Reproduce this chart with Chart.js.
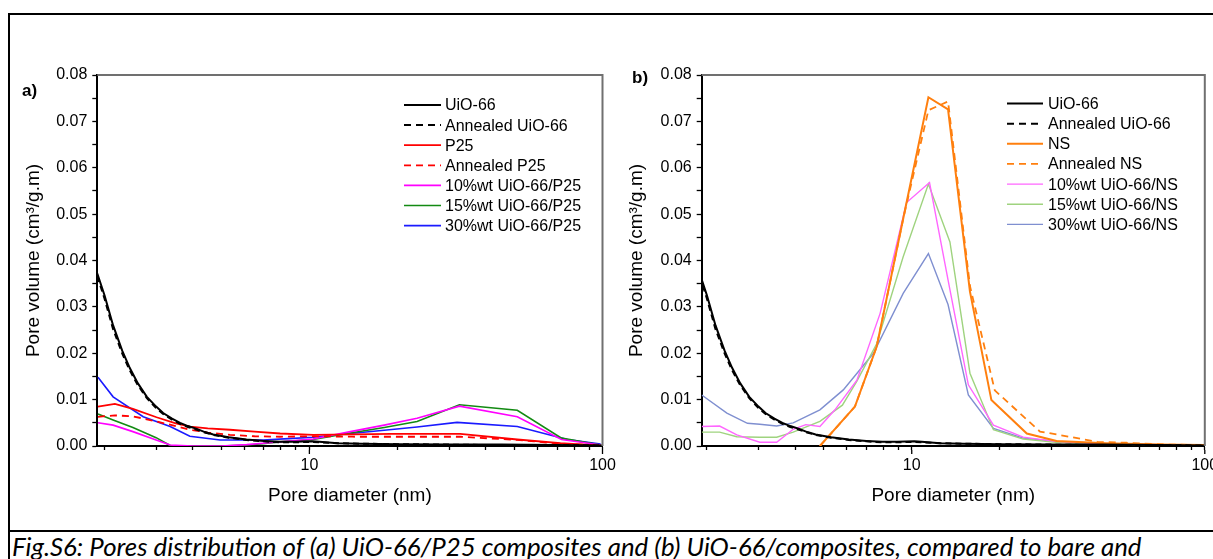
<!DOCTYPE html>
<html>
<head>
<meta charset="utf-8">
<title>Pore size distribution</title>
<script src="https://cdn.jsdelivr.net/npm/chart.js@4.4.1/dist/chart.umd.min.js"></script>
<style>
  html, body { margin: 0; padding: 0; background: #fff; }
  body { width: 1213px; height: 559px; position: relative; overflow: hidden;
         font-family: "Liberation Sans", Arial, sans-serif; color: #000; }
  canvas { position: absolute; top: 0; }
  #chartA { left: 0; }
  #chartB { left: 610px; }
  .rule { position: absolute; background: #000; }
  .tag { position: absolute; font-weight: bold; font-size: 17px; line-height: 20px; }
  .caption { position: absolute; left: 12px; top: 533px; font-family: Lato, "Open Sans", sans-serif;
             font-style: italic; font-size: 25.8px; line-height: 26px; white-space: nowrap; }
</style>
</head>
<body>
<div class="rule" style="left:8px;top:13px;width:1205px;height:2px;"></div>
<div class="rule" style="left:8px;top:13px;width:2px;height:546px;"></div>
<div class="rule" style="left:8px;top:530px;width:1205px;height:2px;"></div>
<canvas id="chartA" width="620" height="530"></canvas>
<canvas id="chartB" width="603" height="530"></canvas>
<div class="tag" style="left:22px;top:81px;">a)</div>
<div class="tag" style="left:632px;top:68px;">b)</div>
<div class="caption">Fig.S6: Pores distribution of (a) UiO-66/P25 composites and (b) UiO-66/composites, compared to bare and</div>

<script>
// ---- axis ticks ----
const xTickValues = [2, 3, 4, 5, 6, 7, 8, 9, 10, 20, 30, 40, 50, 60, 70, 80, 90, 100];
const xTickLabels = [10, 100];
const yTickStep = 0.005;
const yTickLabelStep = 0.01;

// ---- UiO-66 (shared by both panels) ----
const uioD = [1.89, 2.0, 2.14, 2.3, 2.44, 2.6, 2.79, 3.0, 3.17, 3.4, 3.62, 3.85, 4.13, 4.4, 4.7, 5.3, 6.1, 7.0, 7.95, 8.9, 10.2, 10.8, 12.5, 15, 20, 30, 45, 70, 100];
const uioV = [0.0372, 0.0325, 0.0260, 0.0205, 0.0168, 0.0135, 0.0106, 0.0085, 0.0071, 0.0059, 0.0050, 0.0043, 0.0037, 0.0030, 0.0025, 0.0019, 0.0014, 0.0011, 0.0009, 0.0009, 0.0010, 0.0009, 0.0006, 0.0005, 0.0004, 0.0003, 0.0003, 0.0002, 0.0001];
const uioAnnV = [0.0366, 0.0318, 0.0252, 0.0199, 0.0163, 0.0131, 0.0103, 0.0082, 0.0069, 0.0057, 0.0048, 0.0041, 0.0035, 0.0029, 0.0024, 0.0018, 0.0013, 0.0010, 0.0008, 0.0008, 0.0009, 0.0008, 0.0006, 0.0005, 0.0004, 0.0003, 0.0002, 0.0002, 0.0001];

// ---- panel a: P25 series ----
const p25D = [1.9, 2.17, 2.5, 3.01, 3.5, 3.91, 4.5, 5.36, 6.5, 7.95, 10.3, 14, 19, 24, 32.7, 51.2, 71.9, 98.5];
const p25V = [0.0085, 0.0091, 0.0080, 0.0062, 0.0049, 0.0042, 0.0038, 0.0035, 0.0031, 0.0027, 0.0024, 0.0025, 0.0026, 0.0026, 0.0026, 0.0014, 0.0006, 0.0001];
const p25AnnV = [0.0063, 0.0066, 0.0064, 0.0053, 0.0043, 0.0035, 0.0029, 0.0024, 0.0021, 0.0020, 0.0021, 0.0020, 0.0020, 0.0020, 0.0020, 0.0013, 0.0005, 0.0001];

const compAD = [1.9, 2.14, 2.5, 3.0, 3.35, 4.0, 5.0, 6.11, 6.95, 8.0, 10.3, 13.8, 18, 23.3, 32.5, 51.2, 72.5, 98.5];
const p25c10V = [0.0050, 0.0045, 0.0031, 0.0013, 0.0002, 0.0000, 0.0000, 0.0003, 0.0006, 0.0009, 0.0015, 0.0031, 0.0045, 0.0060, 0.0086, 0.0063, 0.0014, 0.0002];
const p25c15V = [0.0069, 0.0056, 0.0040, 0.0018, 0.0001, 0.0000, 0.0000, 0.0002, 0.0005, 0.0009, 0.0014, 0.0028, 0.0040, 0.0053, 0.0089, 0.0077, 0.0017, 0.0002];
const p25c30D = [1.9, 2.14, 2.71, 3.35, 3.91, 4.96, 6.95, 8.5, 10.3, 13.8, 18, 23.3, 31.9, 51.2, 75.8, 98.5];
const p25c30V = [0.0148, 0.0106, 0.0063, 0.0042, 0.0021, 0.0013, 0.0013, 0.0016, 0.0019, 0.0027, 0.0034, 0.0041, 0.0051, 0.0042, 0.0014, 0.0004];

// ---- panel b: NS series ----
const nsD = [4.86, 6.40, 7.59, 9.35, 11.4, 13.3, 15.8, 18.7, 24.7, 31.2, 46, 70, 100];
const nsV = [0.0000, 0.0085, 0.0214, 0.0490, 0.0752, 0.0726, 0.0333, 0.0099, 0.0027, 0.0011, 0.0006, 0.0003, 0.0002];
const nsAnnD = [4.86, 6.40, 7.59, 9.35, 11.4, 13.3, 15.8, 19.2, 27.4, 31.2, 43, 54, 75, 100];
const nsAnnV = [0.0000, 0.0085, 0.0214, 0.0490, 0.0724, 0.0743, 0.0345, 0.0120, 0.0031, 0.0025, 0.0009, 0.0007, 0.0003, 0.0002];

const ns10D = [1.92, 2.21, 2.53, 3.03, 3.46, 3.94, 4.35, 4.86, 5.47, 6.5, 7.8, 9.6, 11.5, 13.3, 15.6, 19.0, 24, 31, 45, 70, 100];
const ns10V = [0.0042, 0.0043, 0.0024, 0.0008, 0.0008, 0.0036, 0.0046, 0.0042, 0.0078, 0.0142, 0.0286, 0.0525, 0.0568, 0.0358, 0.0132, 0.0045, 0.0019, 0.0010, 0.0005, 0.0003, 0.0002];
const ns15D = [1.92, 2.21, 2.53, 3.03, 3.46, 3.94, 4.86, 5.8, 6.5, 7.6, 9.35, 11.4, 13.5, 15.8, 19.0, 24, 31, 45, 70, 100];
const ns15V = [0.0030, 0.0030, 0.0020, 0.0019, 0.0019, 0.0030, 0.0053, 0.0088, 0.0140, 0.0221, 0.0408, 0.0565, 0.0440, 0.0157, 0.0035, 0.0015, 0.0008, 0.0004, 0.0002, 0.0002];
const ns30D = [1.92, 2.34, 2.75, 3.03, 3.46, 3.94, 4.86, 5.84, 7.4, 9.35, 11.4, 13.3, 15.6, 19.0, 24, 35, 50, 75, 100];
const ns30V = [0.0110, 0.0071, 0.0049, 0.0047, 0.0043, 0.0050, 0.0078, 0.0121, 0.0200, 0.0329, 0.0415, 0.0305, 0.0110, 0.0038, 0.0017, 0.0007, 0.0004, 0.0002, 0.0002];

const FONT = '"Liberation Sans", Arial, sans-serif';

function pts(d, v) { return d.map((x, i) => ({ x, y: v[i] })); }
function series(label, d, v, color, width, dash) {
  return { label, data: pts(d, v), borderColor: color, borderWidth: width,
           borderDash: dash || [], pointRadius: 0, tension: 0, fill: false };
}

// key drawn inside the plot area, one row per dataset
const seriesKey = {
  id: 'seriesKey',
  afterDatasetsDraw(chart, args, o) {
    const ctx = chart.ctx;
    ctx.save();
    ctx.font = o.fontSize + 'px ' + FONT;
    ctx.textBaseline = 'middle';
    chart.data.datasets.forEach((ds, i) => {
      const y = o.top + i * o.rowGap;
      ctx.beginPath();
      ctx.setLineDash(ds.borderDash && ds.borderDash.length ? o.dash : []);
      ctx.strokeStyle = ds.borderColor;
      ctx.lineWidth = ds.borderWidth;
      ctx.moveTo(o.left, y);
      ctx.lineTo(o.left + o.lineLen, y);
      ctx.stroke();
      ctx.setLineDash([]);
      ctx.fillStyle = '#000';
      ctx.fillText(ds.label, o.left + o.lineLen + o.gap, y + 1);
    });
    ctx.restore();
  }
};

// grey top/right frame and longer ticks for the labelled values
const plotFrame = {
  id: 'plotFrame',
  afterDraw(chart) {
    const { ctx, chartArea: a, scales } = chart;
    ctx.save();
    ctx.strokeStyle = '#707070';
    ctx.lineWidth = 2;
    ctx.beginPath();
    ctx.moveTo(a.left, a.top);
    ctx.lineTo(a.right, a.top);
    ctx.lineTo(a.right, a.bottom);
    ctx.stroke();
    ctx.strokeStyle = '#000';
    ctx.lineWidth = 1.3;
    ctx.beginPath();
    xTickLabels.forEach(v => {
      const px = scales.x.getPixelForValue(v);
      ctx.moveTo(px, a.bottom + 4);
      ctx.lineTo(px, a.bottom + 8);
    });
    ctx.stroke();
    ctx.restore();
  }
};

function panel(id, cfg) {
  const axisFont = { family: FONT, size: 16 };
  const titleFont = { family: FONT, size: 19 };
  return new Chart(document.getElementById(id), {
    type: 'line',
    data: { datasets: cfg.datasets },
    plugins: [seriesKey, plotFrame],
    options: {
      responsive: false,
      animation: false,
      devicePixelRatio: 1,
      layout: { padding: { top: 75, right: cfg.padRight, bottom: 0, left: 0 } },
      plugins: {
        legend: { display: false },
        tooltip: { enabled: false },
        seriesKey: cfg.key
      },
      scales: {
        x: {
          type: 'logarithmic', min: cfg.xMin, max: 100, position: 'bottom',
          afterBuildTicks: s => { s.ticks = xTickValues.map(v => ({ value: v, major: xTickLabels.includes(v) })); },
          ticks: {
            autoSkip: false, maxRotation: 0, minRotation: 0, color: '#000', font: axisFont, padding: 6,
            callback: v => xTickLabels.some(t => Math.abs(t - v) < 1e-9) ? String(v) : ''
          },
          grid: { drawOnChartArea: false, drawTicks: true, tickLength: 4, tickWidth: 1.3, tickColor: '#000' },
          border: { display: true, color: '#000', width: 2 },
          title: { display: true, text: 'Pore diameter (nm)', color: '#000', font: titleFont, padding: { top: 0, bottom: 23 } },
          afterFit: s => { s.height = 84; s.paddingLeft = 0; s.paddingRight = 0; }
        },
        y: {
          type: 'linear', min: 0, max: 0.08, position: 'left',
          ticks: {
            stepSize: yTickStep, maxTicksLimit: 40, autoSkip: false, color: '#000', font: axisFont, padding: 5,
            callback: v => (Math.abs(v / yTickLabelStep - Math.round(v / yTickLabelStep)) < 1e-6) ? v.toFixed(2) : ''
          },
          grid: { drawOnChartArea: false, drawTicks: true, tickLength: 5, tickWidth: 1.3, tickColor: '#000' },
          border: { display: true, color: '#000', width: 2 },
          title: { display: true, text: 'Pore volume (cm³/g.m)', color: '#000', font: titleFont, padding: { top: cfg.yTitlePad, bottom: 0 } },
          afterFit: s => { s.width = cfg.yAxisWidth; s.paddingTop = 0; s.paddingBottom = 0; }
        }
      }
    }
  });
}

panel('chartA', {
  xMin: 1.89, padRight: 17.5, yAxisWidth: 97.3, yTitlePad: 22,
  key: { left: 404, top: 105, rowGap: 20.1, lineLen: 37, gap: 4, fontSize: 16, dash: [7, 5] },
  datasets: [
    series('UiO-66', uioD, uioV, '#000000', 2),
    series('Annealed UiO-66', uioD, uioAnnV, '#000000', 2, [6, 4]),
    series('P25', p25D, p25V, '#ff0000', 1.8),
    series('Annealed P25', p25D, p25AnnV, '#ff0000', 1.8, [7, 5]),
    series('10%wt UiO-66/P25', compAD, p25c10V, '#ff00ff', 1.6),
    series('15%wt UiO-66/P25', compAD, p25c15V, '#138a13', 1.6),
    series('30%wt UiO-66/P25', p25c30D, p25c30V, '#1a1aff', 1.6)
  ]
});

panel('chartB', {
  xMin: 1.92, padRight: 8.2, yAxisWidth: 91.7, yTitlePad: 15,
  key: { left: 397, top: 103.5, rowGap: 20.15, lineLen: 36, gap: 5, fontSize: 16, dash: [7, 5] },
  datasets: [
    series('UiO-66', uioD, uioV, '#000000', 2),
    series('Annealed UiO-66', uioD, uioAnnV, '#000000', 2, [6, 4]),
    series('NS', nsD, nsV, '#ff7f0e', 2),
    series('Annealed NS', nsAnnD, nsAnnV, '#ff7f0e', 1.8, [7, 5]),
    series('10%wt UiO-66/NS', ns10D, ns10V, '#ff66ff', 1.4),
    series('15%wt UiO-66/NS', ns15D, ns15V, '#9fd37f', 1.4),
    series('30%wt UiO-66/NS', ns30D, ns30V, '#7f8fd0', 1.4)
  ]
});
</script>
</body>
</html>
